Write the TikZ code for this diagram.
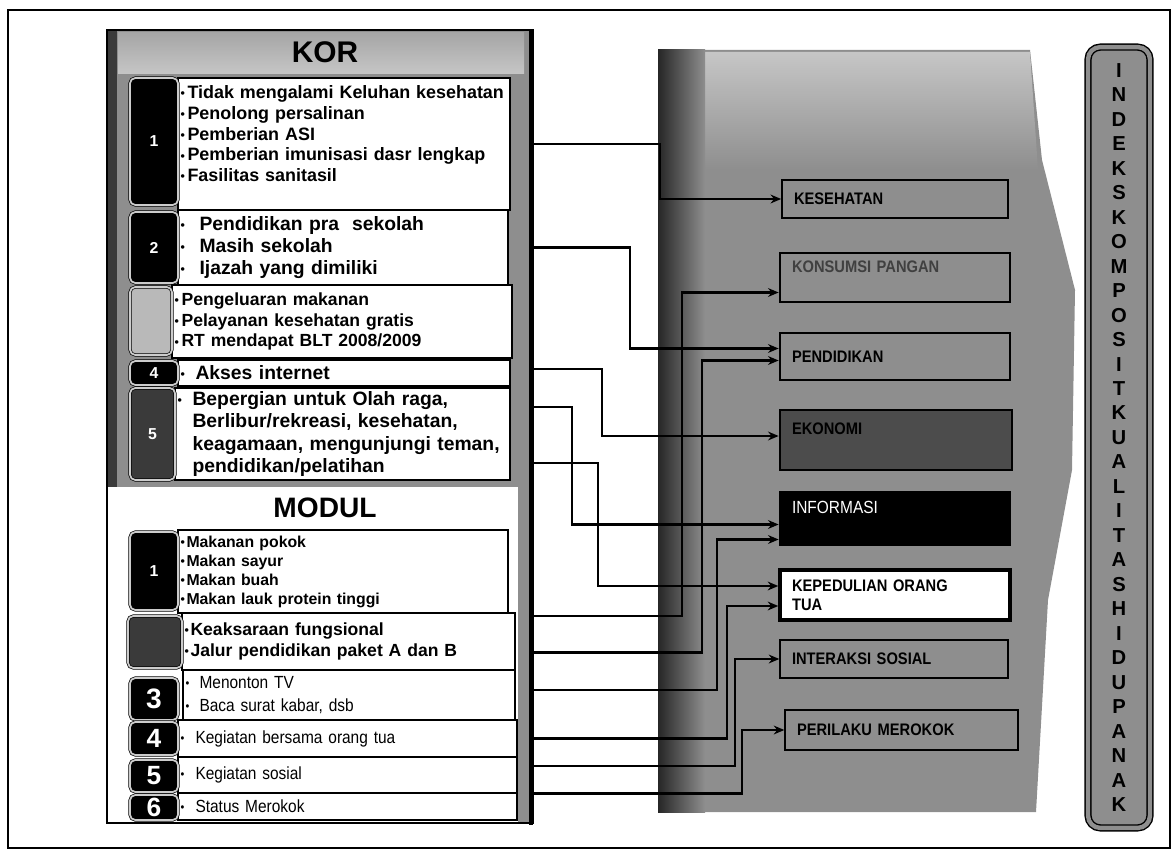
\documentclass[tikz,border=0pt]{standalone}
\usepackage{fontspec}
\setmainfont{Liberation Sans}
\newfontfamily\narrowsf{Liberation Sans}[FakeStretch=0.88]
\usepackage{xcolor}
\usepackage{tikz}
\usetikzlibrary{arrows.meta, positioning, calc}
\definecolor{panelgray}{HTML}{8E8E8E}
\definecolor{lightgray}{HTML}{C6C6C6}
\definecolor{darkgray}{HTML}{3A3A3A}
\newcommand\bul[1][0.16cm]{\makebox[#1][l]{\raisebox{0.1ex}{\scriptsize\textbullet}}}
\tikzset{
    rowbox/.style={
        draw=black, fill=white, line width=1.1pt,
        align=left, inner xsep=0.05cm, inner ysep=0pt
    },
    numbox/.style={
        draw=black, double=gray!40, double distance=1pt, fill=black,
        rounded corners=3pt, text=white, inner sep=0pt,
        minimum width=0.96cm, font=\bfseries\fontsize{9}{9}\selectfont
    },
    catbox/.style={
        draw=black, fill=panelgray, line width=1.6pt,
        align=left, inner xsep=0.24cm, inner ysep=0pt, text width=4.12cm,
        font=\narrowsf\bfseries\fontsize{9.5}{12.5}\selectfont
    },
    idxbar/.style={
        draw=black, line width=0.8pt, double=panelgray, double distance=2.5pt,
        fill=panelgray, rounded corners=7pt, align=center,
        minimum width=1.24cm, minimum height=15.62cm,
        font=\bfseries\fontsize{11.5}{13.93}\selectfont
    },
    link/.style={
        -{Stealth[length=6pt, width=5pt]}, line width=1.5pt, color=black
    },
}

\begin{document}
\begin{tikzpicture}[x=0.02cm, y=-0.02cm]
    \useasboundingbox (0,0) rectangle (1176,855);

    % page frame
    \draw[line width=0.8pt] (8,10) rectangle (1170,848);

    % left panel (KOR + MODUL)
    \fill[panelgray] (107,30) rectangle (533,487);
    \shade[top color=gray!70, bottom color=lightgray] (118,33) rectangle (524,74);
    \fill[darkgray] (107,30) rectangle (117,487);
    \fill[white] (108,487) rectangle (518,822);
    \fill[panelgray] (518,487) rectangle (530,822);
    \draw[line width=0.8pt] (107,30) rectangle (533,823);
    \draw[line width=2.2pt] (531,30) -- (531,825);
    \coordinate (edge) at (533,0);

    % middle panel
    \fill[panelgray] (658,50) -- (1030,50) -- (1042,160) -- (1075,290) -- (1072,470) -- (1048,600) -- (1036,812) -- (658,812) -- cycle;
    \shade[top color=lightgray, bottom color=panelgray] (705,52) -- (1030,52) -- (1038,170) -- (705,170) -- cycle;
    \shade[left color=black!85, right color=panelgray] (658,50) rectangle (705,812);

    % titles
    \node[font=\bfseries\fontsize{17}{17}\selectfont] (kortitle) at (325,52) {KOR};
    \node[font=\bfseries\fontsize{16}{16}\selectfont] (modtitle) at (325,508) {MODUL};

    % KOR rows
    \node[rowbox, text width=6.54cm, minimum height=2.64cm, font=\bfseries\fontsize{10.2}{11.9}\selectfont] (kor1) at (344,144)
        {\bul[0.14cm]Tidak mengalami Keluhan kesehatan\\ \bul[0.14cm]Penolong persalinan\\ \bul[0.14cm]Pemberian ASI\\ \bul[0.14cm]Pemberian imunisasi dasr lengkap\\ \bul[0.14cm]Fasilitas sanitasil\\ \mbox{}};
    \node[rowbox, text width=6.5cm, minimum height=1.5cm, font=\bfseries\fontsize{11}{12.5}\selectfont] (kor2) at (343,247.5)
        {\bul[0.38cm]Pendidikan pra~ sekolah\\ \bul[0.38cm]Masih sekolah\\ \bul[0.38cm]Ijazah yang dimiliki};
    \node[rowbox, text width=6.7cm, minimum height=1.46cm, font=\bfseries\fontsize{10}{11.9}\selectfont] (kor3) at (342,321.5)
        {\bul[0.14cm]Pengeluaran makanan\\ \bul[0.14cm]Pelayanan kesehatan gratis\\ \bul[0.14cm]RT mendapat BLT 2008/2009};
    \node[rowbox, text width=6.54cm, minimum height=0.52cm, font=\bfseries\fontsize{11}{12}\selectfont] (kor4) at (344,373)
        {\bul[0.3cm]Akses internet};
    \node[rowbox, text width=6.6cm, minimum height=1.84cm, font=\bfseries\fontsize{11}{12.8}\selectfont] (kor5) at (342.5,434)
        {\bul[0.3cm]Bepergian untuk Olah raga,\\ \hspace*{0.3cm}Berlibur/rekreasi, kesehatan,\\ \hspace*{0.3cm}keagamaan, mengunjungi teman,\\ \hspace*{0.3cm}pendidikan/pelatihan};

    \node[numbox, minimum height=2.54cm] (kor1n) at (154,141.5) {1};
    \node[numbox, minimum height=1.42cm] (kor2n) at (154,247.5) {2};
    \node[numbox, fill=gray!55, minimum width=0.84cm, minimum height=1.36cm] (kor3n) at (151,321) {};
    \node[numbox, minimum height=0.48cm] (kor4n) at (154,373) {4};
    \node[numbox, fill=darkgray, minimum width=0.9cm, minimum height=1.84cm] (kor5n) at (152.5,434) {5};

    % MODUL rows
    \node[rowbox, text width=6.5cm, minimum height=1.66cm, font=\bfseries\fontsize{9}{10.8}\selectfont] (mod1) at (343,571.5)
        {\bul[0.12cm]Makanan pokok\\ \bul[0.12cm]Makan sayur\\ \bul[0.12cm]Makan buah\\ \bul[0.12cm]Makan lauk protein tinggi};
    \node[rowbox, text width=6.56cm, minimum height=1.14cm, font=\bfseries\fontsize{10}{11.9}\selectfont] (mod2) at (348.5,641.5)
        {\bul[0.12cm]Keaksaraan fungsional\\ \bul[0.12cm]Jalur pendidikan paket A dan B};
    \node[rowbox, text width=6.54cm, minimum height=1.0cm, font=\narrowsf\fontsize{10}{13}\selectfont] (mod3) at (349,695)
        {\bul[0.28cm]Menonton TV\\ \bul[0.28cm]Baca surat kabar, dsb};
    \node[rowbox, text width=6.68cm, minimum height=0.74cm, font=\narrowsf\fontsize{10}{12}\selectfont] (mod4) at (347.5,738.5)
        {\bul[0.3cm]Kegiatan bersama orang tua};
    \node[rowbox, text width=6.68cm, minimum height=0.72cm, font=\narrowsf\fontsize{10}{12}\selectfont] (mod5) at (347.5,775)
        {\bul[0.3cm]Kegiatan sosial};
    \node[rowbox, text width=6.68cm, minimum height=0.54cm, font=\narrowsf\fontsize{10}{12}\selectfont] (mod6) at (347.5,806.5)
        {\bul[0.3cm]Status Merokok};

    \node[numbox, minimum height=1.56cm] (mod1n) at (154,571) {1};
    \node[numbox, fill=darkgray, minimum width=1.08cm, minimum height=1.04cm] (mod2n) at (155,642) {};
    \node[numbox, minimum height=0.84cm, font=\bfseries\fontsize{16}{16}\selectfont] (mod3n) at (154,699) {3};
    \node[numbox, minimum height=0.66cm, font=\bfseries\fontsize{15}{15}\selectfont] (mod4n) at (154,738.5) {4};
    \node[numbox, minimum height=0.64cm, font=\bfseries\fontsize{15}{15}\selectfont] (mod5n) at (154,776) {5};
    \node[numbox, minimum height=0.5cm, font=\bfseries\fontsize{15}{15}\selectfont] (mod6n) at (154,807.5) {6};

    % dimension boxes
    \node[catbox, line width=1pt, text width=4.04cm, minimum height=0.76cm] (kes) at (895,199) {KESEHATAN};
    \node[catbox, text=black!75, minimum height=0.98cm] (kon) at (895,277.5) {KONSUMSI PANGAN\\ \mbox{}};
    \node[catbox, minimum height=0.94cm] (pend) at (895,356.5) {PENDIDIKAN};
    \node[catbox, fill=black!70, text width=4.16cm, minimum height=1.2cm] (eko) at (896,440) {EKONOMI\\ \mbox{}};
    \node[catbox, fill=black, text=white, font=\narrowsf\fontsize{10}{12.5}\selectfont, minimum height=1.06cm] (info) at (895,518.5) {INFORMASI\\ \mbox{}};
    \node[catbox, fill=white, line width=2pt, minimum height=1.0cm, font=\narrowsf\bfseries\fontsize{9.5}{11}\selectfont] (kep) at (895,595) {KEPEDULIAN ORANG\\TUA};
    \node[catbox, line width=0.8pt, text width=4.08cm, minimum height=0.76cm] (inter) at (894,659) {INTERAKSI SOSIAL};
    \node[catbox, line width=0.8pt, text width=4.18cm, minimum height=0.8cm] (peri) at (901.5,730) {PERILAKU MEROKOK};

    % index bar
    \node[idxbar] (idx) at (1119,437.5)
        {I\\N\\D\\E\\K\\S\\K\\O\\M\\P\\O\\S\\I\\T\\K\\U\\A\\L\\I\\T\\A\\S\\H\\I\\D\\U\\P\\A\\N\\A\\K};

    % connectors KOR
    \draw[link] (edge |- kor1.east) -- ++(127,0) |- (kes.west);
    \draw[link] (edge |- kor2.east) -- ++(97,0) |- ($(pend.west)+(0,-8)$);
    \draw[link] ($(edge |- kor4.east)+(0,-4)$) -- ++(69,0) |- ($(eko.west)+(0,-4)$);
    \draw[link] ($(edge |- kor5.east)+(0,-27)$) -- ++(39,0) |- ($(info.west)+(0,6)$);
    \draw[link] ($(edge |- kor5.east)+(0,29)$) -- ++(65,0) |- ($(kep.west)+(0,-9)$);

    % connectors MODUL
    \draw[link] ($(edge |- mod1.south)+(0,2)$) -- ++(149,0) |- ($(kon.west)+(0,15)$);
    \draw[link] ($(edge |- mod2.east)+(0,11)$) -- ++(169,0) |- ($(pend.west)+(0,4)$);
    \draw[link] ($(edge |- mod3.east)+(0,-5)$) -- ++(184,0) |- ($(info.west)+(0,21)$);
    \draw[link] (edge |- mod4.east) -- ++(194,0) |- ($(kep.west)+(0,11)$);
    \draw[link] ($(edge |- mod5.east)+(0,-9)$) -- ++(202,0) |- (inter.west);
    \draw[link] ($(edge |- mod6.east)+(0,-13)$) -- ++(209,0) |- (peri.west);

\end{tikzpicture}
\end{document}
